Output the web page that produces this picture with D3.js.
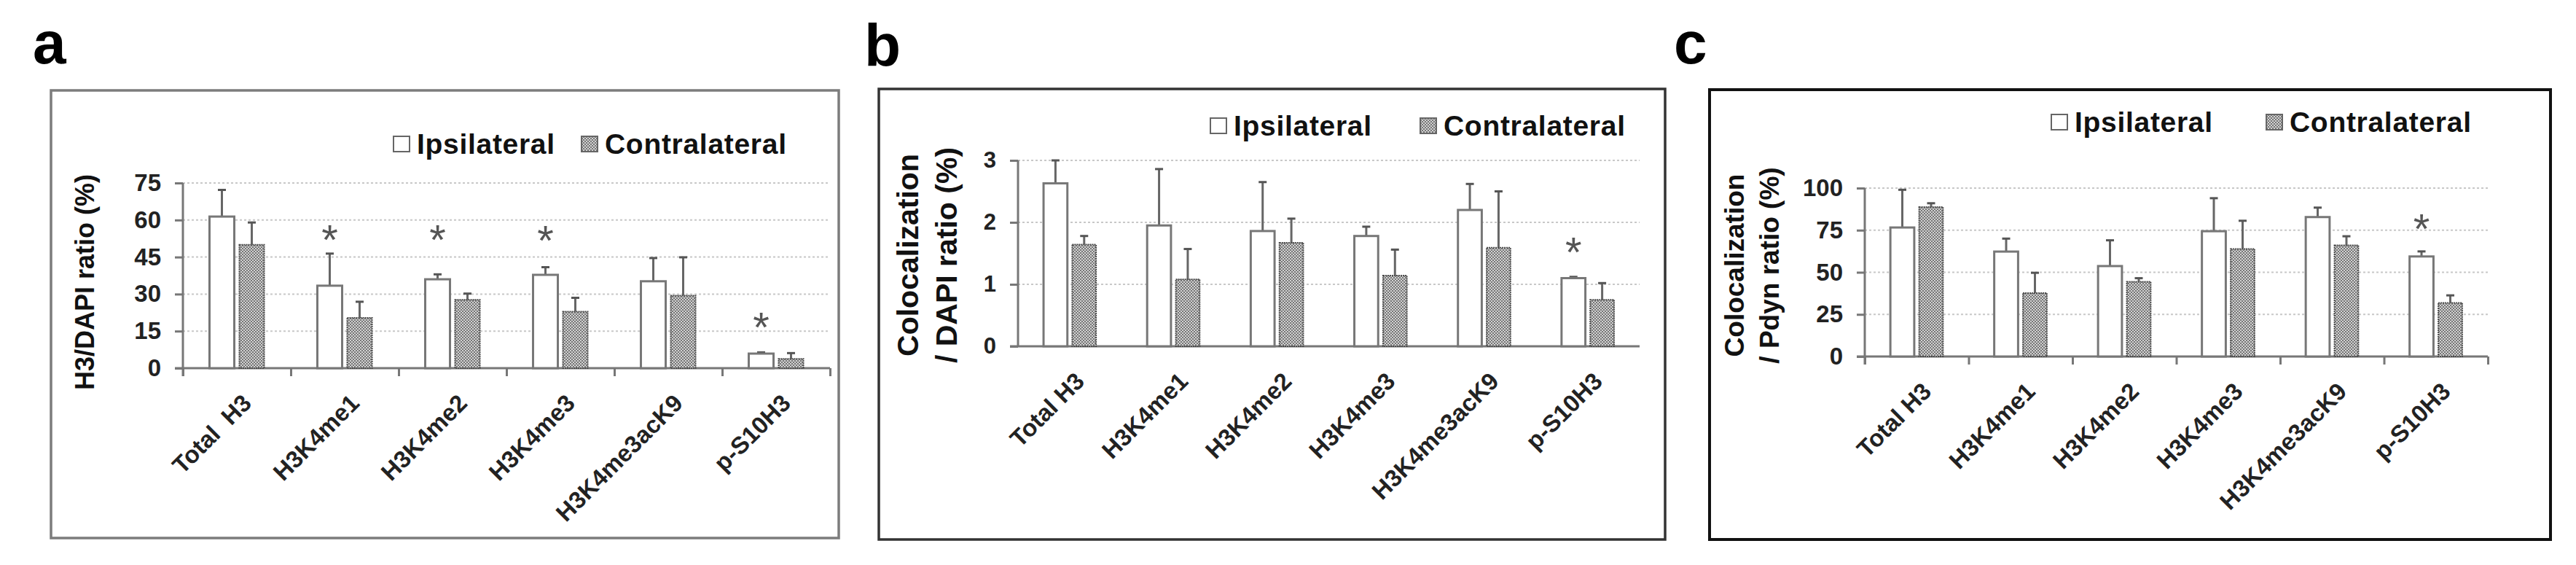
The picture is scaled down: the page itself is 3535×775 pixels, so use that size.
<!DOCTYPE html>
<html>
<head>
<meta charset="utf-8">
<script src="https://cdn.jsdelivr.net/npm/d3@7"></script>
<style>
  body { margin: 0; background: #fff; }
  svg { display: block; font-family: "Liberation Sans", Arial, sans-serif; }
</style>
</head>
<body>
<svg id="fig" width="3535" height="775"></svg>
<script>
// categories and series
var categoriesA = ["Total  H3", "H3K4me1", "H3K4me2", "H3K4me3", "H3K4me3acK9", "p-S10H3"];
var categoriesBC = ["Total H3", "H3K4me1", "H3K4me2", "H3K4me3", "H3K4me3acK9", "p-S10H3"];
var series = ["Ipsilateral", "Contralateral"];

// panel a : H3/DAPI ratio (%)
var aIpsi = [61.4, 33.4, 36.0, 37.8, 35.2, 5.9];
var aIpsiErr = [10.8, 13.0, 2.0, 3.1, 9.4, 0.5];
var aContra = [50.0, 20.4, 27.7, 22.9, 29.4, 3.8];
var aContraErr = [9.0, 6.5, 2.5, 5.6, 15.5, 2.3];
var aStar = [null, 55, 55, 54.5, null, 19.5];
var aTicks = [0, 15, 30, 45, 60, 75];

// panel b : Colocalization / DAPI ratio (%)
var bIpsi = [2.63, 1.95, 1.86, 1.78, 2.20, 1.10];
var bIpsiErr = [0.37, 0.91, 0.79, 0.15, 0.42, 0.02];
var bContra = [1.64, 1.08, 1.67, 1.14, 1.59, 0.75];
var bContraErr = [0.14, 0.49, 0.39, 0.42, 0.91, 0.27];
var bStar = [null, null, null, null, null, 1.63];
var bTicks = [0, 1, 2, 3];

// panel c : Colocalization / Pdyn ratio (%)
var cIpsi = [76.6, 62.3, 53.7, 74.4, 82.8, 59.4];
var cIpsiErr = [22.4, 7.7, 15.3, 19.6, 5.6, 3.0];
var cContra = [88.7, 37.7, 44.4, 63.9, 66.0, 31.8];
var cContraErr = [2.3, 12.0, 2.1, 16.7, 5.4, 4.5];
var cStar = [null, null, null, null, null, 80];
var cTicks = [0, 25, 50, 75, 100];

var svg = d3.select("#fig");

// checker pattern for the contralateral bars
var pat = svg.append("defs").append("pattern")
    .attr("id", "checker")
    .attr("patternUnits", "userSpaceOnUse")
    .attr("width", 4).attr("height", 4);
pat.append("rect").attr("width", 4).attr("height", 4).attr("fill", "#d2d2d2");
pat.append("rect").attr("width", 2).attr("height", 2).attr("fill", "#767676");
pat.append("rect").attr("x", 2).attr("y", 2).attr("width", 2).attr("height", 2).attr("fill", "#767676");

var panels = [
    {
        letter: "a", lx: 45, ly: 87,
        frame: [70, 124, 1151, 738], frameColor: "#7c7c7c", frameWidth: 3.5,
        x0: 251, x1: 1139, yTop: 251, yBot: 505, tickFs: 33,
        ylab: [{text: "H3/DAPI ratio (%)", x: 116}], ylabY: 387, ylabFs: 36,
        legY: 197, legX: [540, 798],
        xTicks: true,
        cats: categoriesA, ipsi: aIpsi, ipsiErr: aIpsiErr, contra: aContra, contraErr: aContraErr,
        star: aStar, ticks: aTicks
    },
    {
        letter: "b", lx: 1186, ly: 90,
        frame: [1206, 122, 2285, 740], frameColor: "#333", frameWidth: 3.5,
        x0: 1397, x1: 2250, yTop: 220, yBot: 475, tickFs: 31,
        ylab: [{text: "Colocalization", x: 1246}, {text: "/ DAPI ratio (%)", x: 1299}], ylabY: 350, ylabFs: 41,
        legY: 172, legX: [1661, 1949],
        xTicks: false,
        cats: categoriesBC, ipsi: bIpsi, ipsiErr: bIpsiErr, contra: bContra, contraErr: bContraErr,
        star: bStar, ticks: bTicks
    },
    {
        letter: "c", lx: 2297, ly: 87,
        frame: [2346, 123, 3500, 740], frameColor: "#111", frameWidth: 4,
        x0: 2559, x1: 3414, yTop: 258, yBot: 489, tickFs: 33,
        ylab: [{text: "Colocalization", x: 2380}, {text: "/ Pdyn ratio (%)", x: 2428}], ylabY: 364, ylabFs: 37,
        legY: 167, legX: [2815, 3110],
        xTicks: true,
        cats: categoriesBC, ipsi: cIpsi, ipsiErr: cIpsiErr, contra: cContra, contraErr: cContraErr,
        star: cStar, ticks: cTicks
    }
];

var axisColor = "#777";

function drawPanel(p) {
    var g = svg.append("g");
    var f = p.frame;

    // panel letter
    g.append("text").attr("x", p.lx).attr("y", p.ly)
        .attr("font-size", 82).attr("font-weight", "bold").attr("fill", "#000")
        .text(p.letter);

    // frame
    g.append("rect")
        .attr("x", f[0]).attr("y", f[1])
        .attr("width", f[2] - f[0]).attr("height", f[3] - f[1])
        .attr("fill", "none").attr("stroke", p.frameColor).attr("stroke-width", p.frameWidth);

    var x = d3.scaleBand().domain(p.cats).range([p.x0, p.x1]).paddingInner(0).paddingOuter(0);
    var xs = d3.scaleBand().domain(series).range([0, x.bandwidth()])
        .paddingInner(0.17).paddingOuter(0.89);
    var ymax = p.ticks[p.ticks.length - 1];
    var y = d3.scaleLinear().domain([0, ymax]).range([p.yBot, p.yTop]);

    // dotted gridlines
    g.append("g").selectAll("line").data(p.ticks.slice(1)).enter().append("line")
        .attr("x1", p.x0).attr("x2", p.x1)
        .attr("y1", function (d) { return y(d); }).attr("y2", function (d) { return y(d); })
        .attr("stroke", "#c8c8c8").attr("stroke-width", 2).attr("stroke-dasharray", "3,3");

    // y axis
    var yAxis = g.append("g").attr("transform", "translate(" + p.x0 + ",0)")
        .call(d3.axisLeft(y).tickValues(p.ticks).tickSize(11).tickPadding(19).tickFormat(d3.format("d")));
    yAxis.select(".domain").remove();
    yAxis.selectAll(".tick line").attr("stroke", axisColor).attr("stroke-width", 3);
    yAxis.selectAll(".tick text")
        .attr("font-size", p.tickFs).attr("font-weight", "bold").attr("fill", "#222")
        .attr("font-family", "'Liberation Sans', Arial, sans-serif");
    g.append("line")
        .attr("x1", p.x0).attr("x2", p.x0)
        .attr("y1", y(ymax)).attr("y2", p.yBot + (p.xTicks ? 11 : 0))
        .attr("stroke", axisColor).attr("stroke-width", 3);

    // x axis, ticks on the category boundaries
    var xb = d3.scaleLinear().domain([0, p.cats.length]).range([p.x0, p.x1]);
    var xAxis = g.append("g").attr("transform", "translate(0," + p.yBot + ")")
        .call(d3.axisBottom(xb).ticks(p.cats.length).tickSize(p.xTicks ? 11 : 0).tickFormat(""));
    xAxis.select(".domain").remove();
    xAxis.selectAll(".tick line").attr("stroke", axisColor).attr("stroke-width", 3);
    g.append("line")
        .attr("x1", p.x0 - 11).attr("x2", p.x1)
        .attr("y1", p.yBot).attr("y2", p.yBot)
        .attr("stroke", axisColor).attr("stroke-width", 3);

    // bars
    var rows = p.cats.map(function (c, i) {
        return [
            {cat: c, s: series[0], v: p.ipsi[i], e: p.ipsiErr[i]},
            {cat: c, s: series[1], v: p.contra[i], e: p.contraErr[i]}
        ];
    });
    var flat = [].concat.apply([], rows);
    var mid = function (d) { return x(d.cat) + xs(d.s) + xs.bandwidth() / 2; };

    var groups = g.append("g").selectAll("g.bar").data(flat).enter().append("g").attr("class", "bar");

    // error bars (upper only), drawn below the bar outline
    groups.append("line")
        .attr("x1", mid).attr("x2", mid)
        .attr("y1", function (d) { return y(d.v); })
        .attr("y2", function (d) { return y(d.v + d.e); })
        .attr("stroke", "#666").attr("stroke-width", 3);
    groups.append("line")
        .attr("x1", function (d) { return mid(d) - 5.5; })
        .attr("x2", function (d) { return mid(d) + 5.5; })
        .attr("y1", function (d) { return y(d.v + d.e); })
        .attr("y2", function (d) { return y(d.v + d.e); })
        .attr("stroke", "#555").attr("stroke-width", 3);

    groups.append("rect")
        .attr("x", function (d) { return x(d.cat) + xs(d.s); })
        .attr("y", function (d) { return y(d.v); })
        .attr("width", xs.bandwidth())
        .attr("height", function (d) { return p.yBot - y(d.v); })
        .attr("fill", function (d) { return d.s === series[0] ? "#fff" : "url(#checker)"; })
        .attr("stroke", function (d) { return d.s === series[0] ? "#777" : "#4a4a4a"; })
        .attr("stroke-width", function (d) { return d.s === series[0] ? 3 : 2; })
        .attr("stroke-dasharray", function (d) { return d.s === series[0] ? null : "2,1"; });

    // asterisks over the ipsilateral bars
    g.append("g").selectAll("text").data(p.cats.filter(function (c, i) { return p.star[i] != null; }))
        .enter().append("text")
        .attr("x", function (c) { return x(c) + xs(series[0]) + xs.bandwidth() / 2; })
        .attr("y", function (c) { return y(p.star[p.cats.indexOf(c)]) + 30; })
        .attr("text-anchor", "middle")
        .attr("font-size", 58).attr("fill", "#555")
        .text("*");

    // category labels
    g.append("g").selectAll("text").data(p.cats).enter().append("text")
        .attr("transform", function (c) {
            return "translate(" + (x(c) + x.bandwidth() / 2 + 22) + "," + (p.yBot + 50) + ") rotate(-45)";
        })
        .attr("text-anchor", "end")
        .attr("font-size", 33).attr("font-weight", "bold").attr("fill", "#222")
        .style("white-space", "pre")
        .text(function (c) { return c; });

    // y label
    g.append("g").selectAll("text").data(p.ylab).enter().append("text")
        .attr("transform", function (d) { return "translate(" + d.x + "," + p.ylabY + ") rotate(-90)"; })
        .attr("text-anchor", "middle").attr("dominant-baseline", "central")
        .attr("font-size", p.ylabFs).attr("font-weight", "bold").attr("fill", "#111")
        .text(function (d) { return d.text; });

    // legend
    var leg = g.append("g").selectAll("g").data(series).enter().append("g")
        .attr("transform", function (d, i) { return "translate(" + p.legX[i] + "," + p.legY + ")"; });
    leg.append("rect")
        .attr("x", 0).attr("y", -10).attr("width", 22).attr("height", 21)
        .attr("fill", function (d, i) { return i === 0 ? "#fff" : "url(#checker)"; })
        .attr("stroke", "#666").attr("stroke-width", 2);
    leg.append("text")
        .attr("x", 32).attr("y", 0).attr("dominant-baseline", "central")
        .attr("font-size", 39).attr("font-weight", "bold").attr("fill", "#111")
        .attr("letter-spacing", 0.7)
        .text(function (d) { return d; });
}

panels.forEach(drawPanel);
</script>
</body>
</html>
